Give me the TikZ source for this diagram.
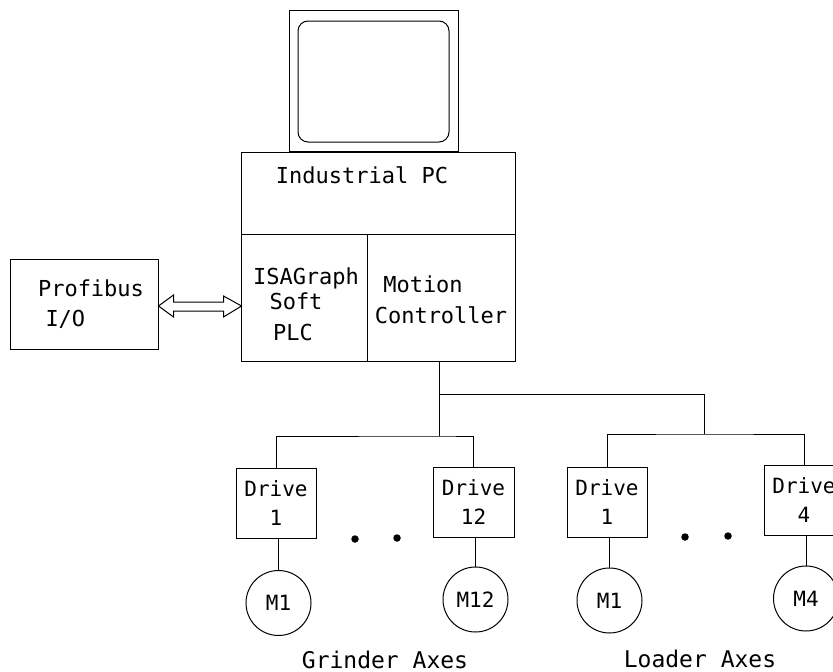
\documentclass[tikz,border=0pt]{standalone}
\usepackage{fontspec}
\newfontfamily\cadfont{DejaVu Sans Mono}
\usetikzlibrary{calc}
\begin{document}
\begin{tikzpicture}[x=1pt,y=-1pt, line width=1pt,
  txt/.style={font=\cadfont\fontsize{22}{27}\selectfont, inner sep=0pt, anchor=base},
  bigtxt/.style={font=\cadfont\fontsize{23}{27}\selectfont, inner sep=0pt, anchor=base},
  box/.style={draw, inner sep=0pt},
  drivebox/.style={box, minimum width=80pt, minimum height=70pt, align=center,
    font=\cadfont\fontsize{21}{29}\selectfont},
  motor/.style={draw, circle, minimum size=65pt, inner sep=0pt,
    font=\cadfont\fontsize{21}{25}\selectfont},
  bigdot/.style={fill, circle, minimum size=7.5pt, inner sep=0pt}]
\useasboundingbox (0,0) rectangle (833,672);
\clip (0,0) rectangle (833,672);

% monitor
\node[box, minimum width=169pt, minimum height=141pt] (mon) at (373.5,80.5) {};
\node[box, rounded corners=10pt, minimum width=151pt, minimum height=121pt] (screen) at (373.5,81.5) {};

% industrial PC
\node[box, minimum width=274pt, minimum height=209pt] (pc) at (378,256.5) {};
\coordinate (divL) at (241,234);
\coordinate (divM) at (367,234);
\draw (divL) -- (pc.east |- divL);
\draw (divM) -- (pc.south -| divM);
\node[txt] (pctxt) at (362,183) {Industrial PC};
\node[txt] (isa) at (306,284) {ISAGraph};
\node[txt] (soft) at (296,309) {Soft};
\node[txt] (plc) at (293,340) {PLC};
\node[txt] (motion) at (423,292) {Motion};
\node[txt] (ctrl) at (441,323) {Controller};

% profibus
\node[box, minimum width=148pt, minimum height=90pt] (prof) at (84,304) {};
\node[txt] (proftxt) at (91,296) {Profibus};
\node[txt, anchor=base west] (io) at (45,326) {I/O};

% double arrow
\draw ($(prof.east)+(0,2)$) -- ++(15,-11) -- ++(0,7) -- ++(50,0) -- ++(0,-6)
  -- ++(18,10) -- ++(-18,11) -- ++(0,-6) -- ++(-50,0) -- ++(0,6) -- cycle;

% drives
\node[drivebox] (g1) at (276,503.5) {Drive\\1};
\node[drivebox, minimum width=81pt] (g12) at (473.5,502) {Drive\\12};
\node[drivebox] (l1) at (607,502) {Drive\\1};
\node[drivebox] (l4) at (804,500) {Drive\\4};

% bus
\coordinate (busTop) at (439,394);
\coordinate (gbus) at (439,436);
\coordinate (lbus) at (704,434);
\draw (pc.south -| gbus) -- (gbus);
\draw (busTop) -| (lbus);
\draw (g1.north) |- (gbus) -| (g12.north);
\draw (l1.north) |- (lbus) -| (l4.north);

% motors
\node[motor] (mg1) at (278.5,603) {M1};
\node[motor] (mg12) at (475.5,599.5) {M12};
\node[motor] (ml1) at (609.5,600.5) {M1};
\node[motor] (ml4) at (806,598.5) {M4};
\draw (mg1.north) -- (mg1.north |- g1.south);
\draw (mg12.north) -- (mg12.north |- g12.south);
\draw (ml1.north) -- (ml1.north |- l1.south);
\draw (ml4.north) -- (ml4.north |- l4.south);

% dots
\node[bigdot] (d1) at (355,539) {};
\node[bigdot] (d2) at (397,538) {};
\node[bigdot] (d3) at (685,537) {};
\node[bigdot] (d4) at (728,536) {};

% group labels
\node[bigtxt] (glab) at (385,668) {Grinder Axes};
\node[bigtxt] (llab) at (700,667) {Loader Axes};
\end{tikzpicture}
\end{document}
